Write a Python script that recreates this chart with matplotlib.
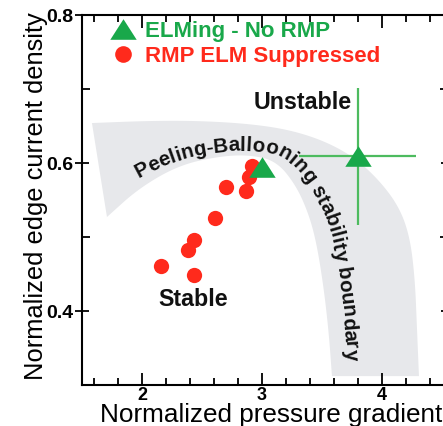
import numpy as np
import matplotlib
matplotlib.use("Agg")
import matplotlib.pyplot as plt
from matplotlib.font_manager import FontProperties, findfont, get_font
from matplotlib.lines import Line2D
from matplotlib.patches import Polygon
from matplotlib.ticker import MultipleLocator

# ---------------- data ----------------
supp_x = [2.16, 2.43, 2.38, 2.43, 2.61, 2.70, 2.87, 2.89, 2.92]
supp_y = [0.461, 0.448, 0.483, 0.496, 0.526, 0.567, 0.562, 0.581, 0.596]

elm_x = [3.00, 3.80]
elm_y = [0.594, 0.609]
elm_xerr_lo = [0.0, 0.49]
elm_xerr_hi = [0.0, 0.48]
elm_yerr_lo = [0.0, 0.093]
elm_yerr_hi = [0.0, 0.093]

band_outer_x = [1.583, 2.058, 2.475, 2.892, 3.225, 3.517, 3.767, 3.975, 4.142, 4.233, 4.275, 4.292, 4.308]
band_outer_y = [0.654, 0.657, 0.657, 0.653, 0.645, 0.630, 0.608, 0.577, 0.541, 0.500, 0.442, 0.374, 0.312]
band_inner_x = [1.708, 1.975, 2.308, 2.642, 2.892, 3.117, 3.283, 3.392, 3.458, 3.517, 3.558, 3.583]
band_inner_y = [0.527, 0.566, 0.597, 0.609, 0.611, 0.603, 0.570, 0.530, 0.489, 0.428, 0.368, 0.312]

band_label = "Peeling-Ballooning stability boundary"
band_label_start = (1.958, 0.584)
band_label_end = (3.60, 0.331)

legend_labels = ["ELMing - No RMP", "RMP ELM Suppressed"]
x_ticks = [2, 3, 4]
y_ticks = [0.4, 0.6, 0.8]
xlabel = "Normalized pressure gradient"
ylabel = "Normalized edge current density"

# ---------------- style ----------------
GREEN = "#19a84a"
GREEN_ERR = "#4dbb5f"
RED = "#ff2a1c"
BAND = "#e7e8eb"
DPI = 100
plt.rcParams["font.family"] = ["Liberation Sans", "DejaVu Sans"]

fp_reg = FontProperties(family="Liberation Sans")
fp_bold = FontProperties(family="Liberation Sans", weight="bold")


def advances(s, fp, size):
    font = get_font(findfont(fp))
    font.set_size(size, DPI)
    return np.array([font.load_char(ord(c)).linearHoriAdvance / 65536.0 for c in s])


def fit_size(s, fp, target_px):
    return 10.0 * target_px / advances(s, fp, 10.0).sum()


def chaikin(pts, n=4):
    pts = np.asarray(pts, float)
    for _ in range(n):
        q = 0.75 * pts[:-1] + 0.25 * pts[1:]
        r = 0.25 * pts[:-1] + 0.75 * pts[1:]
        new = np.empty((2 * len(q), 2))
        new[0::2] = q
        new[1::2] = r
        pts = np.vstack([pts[:1], new, pts[-1:]])
    return pts


def resample(pts, n):
    d = np.r_[0, np.cumsum(np.hypot(*np.diff(pts, axis=0).T))]
    u = np.linspace(0, d[-1], n)
    return np.column_stack([np.interp(u, d, pts[:, 0]), np.interp(u, d, pts[:, 1])])


fig = plt.figure(figsize=(4.43, 4.26), dpi=DPI)
W, H = 443.0, 426.0
ax = fig.add_axes([82 / W, 41 / H, 366 / W, 370 / H])
ax.set_xlim(1.5, 4.55)
ax.set_ylim(0.3, 0.8)

for sp in ax.spines.values():
    sp.set_linewidth(1.5)

ax.set_xticks(x_ticks)
ax.set_yticks(y_ticks)
ax.xaxis.set_minor_locator(MultipleLocator(0.2))
ax.yaxis.set_minor_locator(MultipleLocator(0.1))
ax.tick_params(axis="x", which="both", direction="in", top=True, bottom=True, width=1.3)
ax.tick_params(axis="x", which="major", length=9, pad=1.5)
ax.tick_params(axis="x", which="minor", length=5)
ax.tick_params(axis="y", which="major", direction="inout", length=10, width=1.3, right=True, pad=1)
ax.tick_params(axis="y", which="minor", direction="in", length=6, width=1.3, right=True)
ax.set_xticklabels([str(t) for t in x_ticks])
ax.set_yticklabels([f"{t:.1f}" for t in y_ticks])
for lab in ax.get_xticklabels():
    lab.set_fontproperties(fp_bold)
    lab.set_fontsize(13)
for lab in ax.get_yticklabels():
    lab.set_fontproperties(fp_bold)
    lab.set_fontsize(14)

# band
outer_s = chaikin(np.column_stack([band_outer_x, band_outer_y]))
inner_s = chaikin(np.column_stack([band_inner_x, band_inner_y]))
poly = np.vstack([outer_s, inner_s[::-1]])
ax.add_patch(Polygon(poly, closed=True, facecolor=BAND, edgecolor="none", zorder=0))

# curved label along the band
trans = ax.transData
od = resample(trans.transform(outer_s), 400)
idd = resample(trans.transform(inner_s), 400)
t = 0.17
mid = idd + t * (od - idd)
mid = resample(chaikin(mid, 2), 2000)
seg = np.hypot(*np.diff(mid, axis=0).T)
arc = np.r_[0, np.cumsum(seg)]


def nearest_arc(pt):
    p = trans.transform(pt)
    i = np.argmin(np.hypot(mid[:, 0] - p[0], mid[:, 1] - p[1]))
    return arc[i]


s0 = nearest_arc(band_label_start)
s1 = nearest_arc(band_label_end)
fs_band = fit_size(band_label, fp_bold, s1 - s0)
adv = advances(band_label, fp_bold, fs_band)
cum = np.r_[0, np.cumsum(adv)]
inv = trans.inverted()
for i, ch in enumerate(band_label):
    if ch == " ":
        continue
    s = s0 + cum[i] + adv[i] / 2
    x = np.interp(s, arc, mid[:, 0])
    y = np.interp(s, arc, mid[:, 1])
    x2 = np.interp(s + 2, arc, mid[:, 0])
    y2 = np.interp(s + 2, arc, mid[:, 1])
    x1 = np.interp(s - 2, arc, mid[:, 0])
    y1 = np.interp(s - 2, arc, mid[:, 1])
    ang = np.degrees(np.arctan2(y2 - y1, x2 - x1))
    xd, yd = inv.transform((x, y))
    ax.text(xd, yd, ch, rotation=ang, rotation_mode="anchor", ha="center", va="baseline",
            fontproperties=fp_bold, fontsize=fs_band, color="#111111", zorder=2)

# triangle marker (flatter than default)
tri = [(-1, -0.78), (1, -0.78), (0, 0.78)]

# error bars and points
ax.errorbar(elm_x, elm_y, xerr=[elm_xerr_lo, elm_xerr_hi], yerr=[elm_yerr_lo, elm_yerr_hi],
            fmt="none", ecolor=GREEN_ERR, elinewidth=1.6, capsize=0, zorder=3)
ax.plot(supp_x, supp_y, ls="none", marker="o", ms=11, mfc=RED, mec=RED, mew=0, zorder=4)
ax.plot(elm_x, elm_y, ls="none", marker=tri, ms=19, mfc=GREEN, mec=GREEN, mew=0, zorder=5)

# region labels
fs_unst = fit_size("Unstable", fp_bold, 98)
ax.text(3.34, 0.682, "Unstable", ha="center", va="center", fontproperties=fp_bold,
        fontsize=fs_unst, color="#111111", zorder=6)
ax.text(2.43, 0.415, "Stable", ha="center", va="center", fontproperties=fp_bold,
        fontsize=fs_unst, color="#111111", zorder=6)

# legend
fs_leg = fit_size(legend_labels[1], fp_bold, 236)
handles = [
    Line2D([], [], ls="none", marker=tri, ms=19, mfc=GREEN, mec=GREEN, mew=0),
    Line2D([], [], ls="none", marker="o", ms=12, mfc=RED, mec=RED, mew=0),
]
lp = fp_bold.copy()
lp.set_size(fs_leg)
leg = ax.legend(handles, legend_labels, loc="upper left", bbox_to_anchor=(0.082, 0.985),
                frameon=False, prop=lp, labelcolor=[GREEN, RED], borderpad=0, borderaxespad=0,
                handlelength=1.0, handletextpad=0.49, labelspacing=0.18)

# axis labels
fs_x = fit_size(xlabel, fp_reg, 342)
ax.set_xlabel(xlabel, fontproperties=fp_reg, fontsize=fs_x)
ax.xaxis.set_label_coords((271 - 82) / 366, -(403 - 385) / 370)
fs_y = fit_size(ylabel, fp_reg, 367)
ax.set_ylabel(ylabel, fontproperties=fp_reg, fontsize=fs_y)
ax.yaxis.label.set_va("center")
ax.yaxis.set_label_coords((36 - 82) / 366, (385 - 196) / 370)

fig.savefig("out.png", dpi=DPI)
